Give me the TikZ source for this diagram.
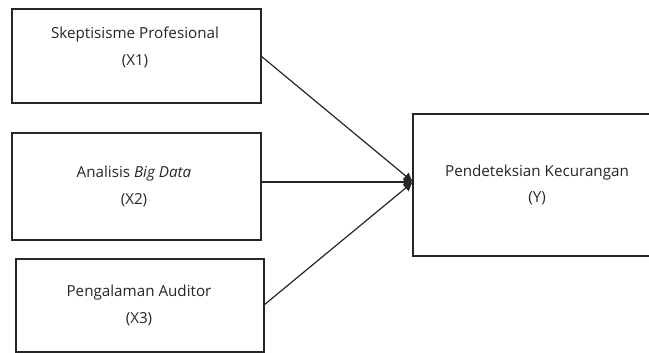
\documentclass[tikz,border=0pt]{standalone}
\usepackage{fontspec}
\setmainfont{Open Sans}
\usetikzlibrary{arrows.meta}
\begin{document}
\begin{tikzpicture}[x=0.75pt,y=-0.75pt,
  varbox/.style={draw=black!85,line width=0.9pt},
  lbl/.style={font=\fontsize{11.4}{13}\selectfont,inner sep=0pt,text=black!85},
  link/.style={draw=black!85,line width=0.9pt,-{Latex[length=7pt,width=7pt]}}]
\useasboundingbox (0,0) rectangle (649,353);
% variable boxes
\draw[varbox] (12,9) rectangle (261,103);
\coordinate (x1) at (261,56);
\draw[varbox] (12,133) rectangle (261,240);
\coordinate (x2) at (261,182);
\draw[varbox] (16,259) rectangle (264,352);
\coordinate (x3) at (264,305);
\draw[varbox] (413,114) rectangle (655,256);
\coordinate (y) at (413,182);
% labels
\node[lbl] (t1a) at (135,35) {Skeptisisme Profesional};
\node[lbl] (t1b) at (135,61) {(X1)};
\node[lbl] (t2a) at (134,174) {Analisis \textit{Big Data}};
\node[lbl] (t2b) at (134,200) {(X2)};
\node[lbl] (t3a) at (139,293) {Pengalaman Auditor};
\node[lbl] (t3b) at (139,319) {(X3)};
\node[lbl] (tya) at (537,173) {Pendeteksian Kecurangan};
\node[lbl] (tyb) at (537,198) {(Y)};
% paths
\draw[link] (x1) -- (y);
\draw[link] (x2) -- (y);
\draw[link] (x3) -- (y);
\end{tikzpicture}
\end{document}
